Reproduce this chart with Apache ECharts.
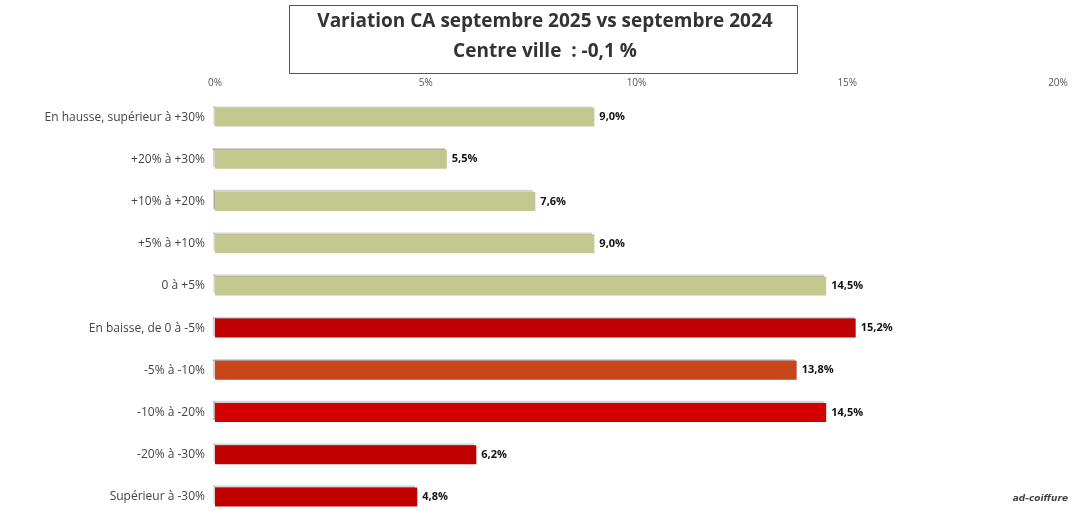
<!DOCTYPE html>
<html><head><meta charset="utf-8">
<script src="https://cdn.jsdelivr.net/npm/echarts@6/dist/echarts.min.js"></script>
<style>html,body{margin:0;background:#fff}#c{width:1090px;height:526px}</style>
</head><body><div id="c"></div>
<script>
const categories = ['En hausse, supérieur à +30%', '+20% à +30%', '+10% à +20%', '+5% à +10%', '0 à +5%',
  'En baisse, de 0 à -5%', '-5% à -10%', '-10% à -20%', '-20% à -30%', 'Supérieur à -30%'];
const values = [9.0, 5.5, 7.6, 9.0, 14.5, 15.2, 13.8, 14.5, 6.2, 4.8];
const colors = ['#c3c98e', '#c3c98e', '#c3c98e', '#c3c98e', '#c3c98e',
  '#c00000', '#c8461a', '#d40000', '#c00000', '#c00000'];
const ticks = [0, 5, 10, 15, 20];

const chart = echarts.init(document.getElementById('c'));
chart.setOption({
  animation: false,
  graphic: [
    { type: 'rect', shape: { x: 289.5, y: 5.5, width: 508, height: 68 }, style: { fill: '#fff', stroke: '#555', lineWidth: 1 } },
    { type: 'text', left: 'center', top: 12, style: { text: 'Variation CA septembre 2025 vs septembre 2024', font: 'bold 19px "Open Sans"', fill: '#333' } },
    { type: 'text', left: 'center', top: 42, style: { text: 'Centre ville  : -0,1 %', font: 'bold 19px "Open Sans"', fill: '#333' } },
    { type: 'text', right: 22, top: 494, style: { text: 'ad-coiffure', font: 'italic bold 9px "DejaVu Sans"', fill: '#444' } }
  ],
  grid: { left: 215, right: 32, top: 96, bottom: 8 },
  xAxis: {
    type: 'value', position: 'top', min: 0, max: 20, interval: 5,
    axisLabel: { formatter: v => v + '%', color: '#555', fontSize: 10, fontFamily: 'Open Sans' },
    splitLine: { show: false }, axisLine: { show: false }, axisTick: { show: false }
  },
  yAxis: {
    type: 'category', inverse: true, data: categories,
    axisLabel: { color: '#444', fontSize: 12, fontFamily: 'Open Sans', margin: 10 },
    axisLine: { show: false }, axisTick: { show: false }
  },
  series: [{
    type: 'bar', barWidth: 19,
    data: values.map((v, i) => ({ value: v, itemStyle: { color: colors[i], shadowColor: 'rgba(0,0,0,0.35)', shadowOffsetX: -2, shadowOffsetY: -2, shadowBlur: 1 } })),
    label: { show: true, position: 'right', formatter: p => p.value.toFixed(1).replace('.', ',') + '%', color: '#111', fontWeight: 'bold', fontSize: 11, fontFamily: 'Open Sans' }
  }]
});
</script></body></html>
